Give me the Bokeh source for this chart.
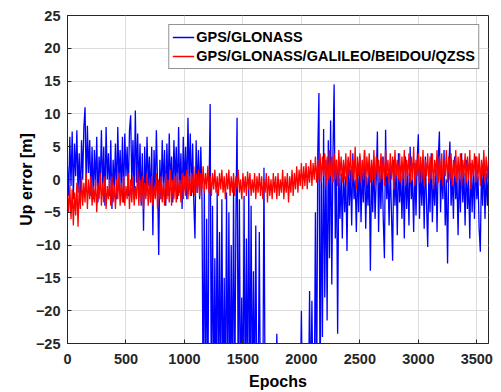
from bokeh.plotting import figure
from bokeh.models import Range1d, FixedTicker, Legend, LegendItem
from bokeh.embed import file_html
from bokeh.resources import INLINE

# ---------------- data (one sample every 10 epochs) -------------
EPOCH_STEP = 10

# GPS/GLONASS  (values below -25 are off-scale in the reference)
gps_glo_0000_1140 = [
    2.0, -2.5, 6.5, -1.0, 7.3, -3.0, 5.5, 0.5, 7.5, -2.0,
    4.0, -3.5, 6.0, 0.0, 8.0, 11.0, -1.5, 8.2, 1.0, 6.0,
    -2.5, 5.0, -3.0, 4.5, -1.0, 6.5, -3.5, 3.5, -0.5, 7.5,
    -2.0, 5.0, -4.0, 8.0, 0.0, 4.0, -2.5, 6.0, -4.5, 3.0,
    -1.5, 5.5, -3.0, 8.0, -0.5, 4.5, -2.0, 6.5, -3.5, 7.0,
    0.5, 5.0, -2.5, 7.5, 9.8, -1.0, 6.0, -3.0, 10.5, -0.5,
    7.0, -2.0, 5.5, -4.0, 4.0, -7.8, 5.0, -2.5, 6.5, -1.0,
    3.5, -3.5, 5.0, -8.5, 4.5, -2.0, 7.5, -0.5, -11.5, 3.0,
    -3.0, 6.0, -1.5, 4.5, -4.0, 5.5, -2.5, 7.0, -1.0, 3.5,
    -3.5, 6.0, -0.5, 5.0, -3.0, 8.0, -2.0, 4.0, -4.5, 6.5,
    -1.5, 5.0, -3.0, 9.4, -0.5, 7.0, -2.5, 5.5, -3.5, -9.0,
    6.0, -2.0, 4.5, -3.0, 5.0,
]
gps_glo_1150_1620 = [
    -3, -35, -1, -35, -6, -35, -2, 11.5, -35, -4,
    -35, -12, -35, -1.5, -35, -8, -35, -3, -35, -15,
    -35, -2, -35, -5, -35, -10, -35, -1, -35, -6,
    9.4, -35, -3, -35, -18, -35, -2.5, -35, -9, -35,
    -0.5, -35, -4, -35, -14, -35, -7, -35,
]
gps_glo_1630_2110 = [
    -35, -8, -35, -35, -35, 1.8, -35,
    -35, -35, -35, -35, -35, -35, -35, -35, -35,
    -23.5,
    -35, -35, -35, -35, -35, -35, -35, -35, -35, -35,
    -35, -35, -35, -35, -35, -35, -35, -35, -35, -35,
    -20,
    -35, -35, -35, -35, -35, -35,
    -17, -35, -18.5, -35, -35,
]
gps_glo_2120_2320 = [
    -5, -35, 4, 13.2, -35, 2, -24, 7.7, -18, 3,
    -21.5, 6, -12, 9, -16, 4, 14.5, -9, 3, -23.5, 2,
]
gps_glo_2330_3600 = [
    -6, 1, -9, 2.5, -5, 0.5, -10.9, 3, -4, 1.5,
    -7, 4, -3, 0, -8, 2, -5, 3.5, -6.5, 1,
    -3.5, 4.5, -7.5, 0.5, -4, 2.5, -13.9, 1.5, -5, 3,
    -6, 0, 7.3, -8, 2, -4.5, 3.5, -6, -12, 7.6,
    -3, 1, -7, 2.5, -5, -12.4, 3, -4, 1.5, -8.5,
    4, -3.5, 0.5, -6, 2, -9, 3.5, -4.5, 1, -7,
    5, -3, 0, -8, 2.5, -5.5, 3, 6.9, -6, 1.5,
    -4, 2, -7.5, 3.5, -3.5, -10.3, 1, -5, 4, -6.5,
    0.5, -4, 2.5, -8, 3, 7.3, -5, 1.5, -3, 4.5,
    -7, 0, -12.8, 2, 5.8, -4, 1, -6, 3.5, -3,
    0.5, -8.5, 2, -5, 4, -3.5, 1, -7, 3, -4.5,
    0, -9, 2.5, -5, 1.5, -6, 3.5, -3, 0.5, -7.5,
    -11, 2, -4, 3, -6, 1, -4, 2,
]

# GPS/GLONASS/GALILEO/BEIDOU/QZSS
multi_0000_1140 = [
    -2, -5, -1, -6, -1.5, -7, -2, -5.5, -0.5, -7.2,
    -1, -4.5, 0.5, -4, -0.5, -3.5, 1, -4.5, 0, -3,
    0.5, -4, -1, -3.5, 0, -5, -0.5, -3, 1, -4,
    -0.5, -3.5, 0.5, -4.5, -1, -3, 0, -4, 0.5, -3.5,
    -1, -4.5, 0, -3, 1, -4, -0.5, -3.5, 0.5, -4,
    -1, -3, 1, -4.5, 0, -3.5, 0.5, -4, -1, -3,
    1.5, -4, 0, -3.5, 0.5, -4.5, -0.5, -3, 1, -4,
    0, -3.5, 0.5, -4, -1, -3, 1, -4.5, 0, -3,
    0.5, -3.5, -0.5, -4, 1, -3, 0, -3.5, 1.5, -4,
    0, -3, 0.5, -3.5, 1, -2.5, 0, -3.5, 1, -3,
    0.5, -2.5, 1.5, -3, 0.5, -2.5, 1, -2, 2, -2.5,
    1, -2, 1.5, -2.5, 1,
]
multi_1150_2000 = [
    -1.5, 2, -2, 1, -1.5, 2.1, -2, 0.5, -2.5, 1,
    -1.5, 1.5, -2, 0.5, -2.5, 1, -1.5, 1.5, -2, 0.5,
    -3, 1, -1.5, 1.5, -2.5, 0.5, -2, 1, -2.5, 0.5,
    -1.5, 1.5, -2, 0, -3, 1, -2, 0.5, -2.5, 1.2,
    -1.5, 1, -2.5, 0, -2, 1, -3, 0.5, -2, 1,
    -2.5, 0.5, -3, 0, -2, 1, -3.5, 0.5, -2.5, 0,
    -3, 1, -2, 0.5, -3, 1, -2.5, 0, -2, 1.5,
    -3, 0.5, -2, 1, -3.5, 0.5, -2, 1.5, -2.5, 1,
    -1.5, 2, -2, 1.5, -1, 2.5,
]
multi_2010_2250 = [
    -1.5, 2, -1, 2.5, -1.5, 2, -0.5, 3, -1, 2.5,
    0, 3.5, -0.5, 3, 0, 4, -0.5, 3.5, 0.5, 4,
    -1, 3.5, 0, 4.5, 0.5,
]
multi_2260_3600 = [
    3.5, -0.5, 4, 0, 3, -1, 4.5, 0.5, 3.5, -0.5,
    3, 0, 4, -1, 3.5, 0.5, 4.5, -0.5, 3, 0,
    5, -1.5, 3.5, 0.5, 4, -0.5, 3, 0, 4.5, -1,
    3.5, 0.5, 4, -0.5, 3, 0, 4.5, -1, 3.5, 0.5,
    3, -0.5, 4, 0, 3.5, -1, 4.5, 0.5, 3, -0.5,
    4, 0, 3.5, -1.5, 4.5, 0.5, 3, 0, 4, -0.5,
    3.5, 0, 4.5, -1, 3, 0.5, 4, -0.5, 3.5, 0,
    5, -1, 3, 0.5, 4, -0.5, 3.5, 0, 4.5, -1,
    3, 0.5, 4, -0.5, 3.5, 0, 4, -1.5, 3, 0.5,
    4.5, -0.5, 3.5, 0, 4, -1, 3, 0.5, 4.5, -0.5,
    3.5, 0, 4, -1, 3, 0.5, 4.5, -0.5, 3.5, 0,
    4, -1, 3, 0.5, 4, -0.5, 3.5, 0, 4.5, -1.5,
    3, 0.5, 4, -0.5, 3.5, 0, 4, -1, 3, 0.5,
    4.5, -0.5, 3.5, 0, 3,
]

x_ticks = [0, 500, 1000, 1500, 2000, 2500, 3000, 3500]
y_ticks = [-25, -20, -15, -10, -5, 0, 5, 10, 15, 20, 25]
label_a = "GPS/GLONASS"
label_b = "GPS/GLONASS/GALILEO/BEIDOU/QZSS"

gps_glo = (gps_glo_0000_1140 + gps_glo_1150_1620 + gps_glo_1630_2110
           + gps_glo_2120_2320 + gps_glo_2330_3600)
multi = multi_0000_1140 + multi_1150_2000 + multi_2010_2250 + multi_2260_3600
ep_a = [i * EPOCH_STEP for i in range(len(gps_glo))]
ep_b = [i * EPOCH_STEP for i in range(len(multi))]

# ---------------- figure ----------------
FONT = "Liberation Sans"
p = figure(width=501, height=392, output_backend="svg", toolbar_location=None,
           x_range=Range1d(0, 3600), y_range=Range1d(-25, 25),
           min_border_left=67, min_border_right=13, min_border_top=15,
           min_border_bottom=47)
p.background_fill_color = "white"
p.border_fill_color = "white"
p.outline_line_color = "#262626"
p.outline_line_width = 1

for ax, ticks in ((p.xaxis, x_ticks), (p.yaxis, y_ticks)):
    ax.ticker = FixedTicker(ticks=ticks)
    ax.minor_tick_line_color = None
    ax.major_tick_out = 0
    ax.major_tick_in = 4
    ax.axis_line_color = "#262626"
    ax.major_tick_line_color = "#262626"
    ax.major_label_text_font = FONT
    ax.major_label_text_font_style = "bold"
    ax.major_label_text_font_size = "14.5px"
    ax.major_label_text_color = "#262626"
    ax.axis_label_text_font = FONT
    ax.axis_label_text_font_style = "bold"
    ax.axis_label_text_font_size = "16px"
    ax.axis_label_text_color = "black"

p.xaxis.axis_label = "Epochs"
p.yaxis.axis_label = "Up error [m]"
p.xaxis.major_label_standoff = 10
p.xaxis.axis_label_standoff = 6
p.yaxis.major_label_standoff = 7
p.yaxis.axis_label_standoff = -2

p.xgrid.ticker = FixedTicker(ticks=x_ticks)
p.ygrid.ticker = FixedTicker(ticks=y_ticks)
for g in (p.xgrid, p.ygrid):
    g.grid_line_color = "#dcdcdc"
    g.grid_line_width = 1

r_a = p.line(ep_a, gps_glo, line_color="#0000ff", line_width=1.3)
r_b = p.line(ep_b, multi, line_color="#ff0000", line_width=1.3)

legend = Legend(items=[LegendItem(label=label_a, renderers=[r_a]),
                       LegendItem(label=label_b, renderers=[r_b])],
                location="top_right")
legend.margin = 9
legend.padding = 3
legend.spacing = 1
legend.glyph_width = 22
legend.glyph_height = 18
legend.label_height = 18
legend.label_standoff = 2
legend.label_text_font = FONT
legend.label_text_font_style = "bold"
legend.label_text_font_size = "14.5px"
legend.label_text_color = "black"
legend.border_line_color = "#262626"
legend.border_line_width = 1
legend.background_fill_color = "white"
legend.background_fill_alpha = 1
p.add_layout(legend)

open("out.html", "w").write(file_html(p, INLINE))
